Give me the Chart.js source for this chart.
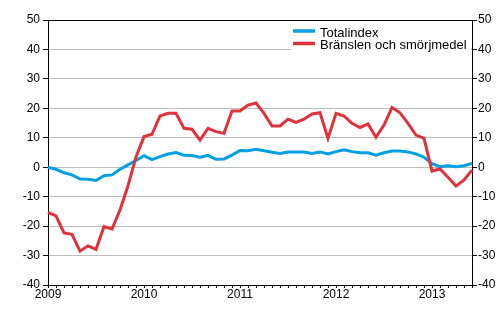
<!DOCTYPE html>
<html>
<head>
<meta charset="utf-8">
<script src="https://cdn.jsdelivr.net/npm/chart.js@4/dist/chart.umd.min.js"></script>
<style>
  html, body { margin: 0; padding: 0; background: #fff; }
  #wrap { width: 500px; height: 330px; }
</style>
</head>
<body>
<div id="wrap"><canvas id="chart" width="500" height="330"></canvas></div>
<script>
// Monthly data Jan 2009 - Jun 2013, % change
const years = ['2009', '2010', '2011', '2012', '2013'];
const months = ['01', '02', '03', '04', '05', '06', '07', '08', '09', '10', '11', '12'];

const totalindex = [
  0.0, -0.7, -1.9, -2.6, -4.0, -4.1, -4.5, -2.9, -2.6, -0.7, 0.8, 2.3,
  3.9, 2.6, 3.6, 4.5, 5.0, 4.1, 4.0, 3.4, 4.0, 2.7, 2.8, 4.1,
  5.7, 5.6, 6.1, 5.6, 5.1, 4.7, 5.2, 5.2, 5.2, 4.7, 5.2, 4.5,
  5.3, 5.9, 5.3, 4.9, 4.9, 4.1, 4.9, 5.5, 5.5, 5.2, 4.5, 3.4,
  1.2, 0.2, 0.5, 0.2, 0.5, 1.3
];
const bransle = [
  -15.3, -16.5, -22.3, -22.8, -28.5, -26.7, -27.9, -20.2, -21.0, -14.5, -6.3, 3.5,
  10.4, 11.2, 17.4, 18.3, 18.3, 13.2, 12.9, 9.2, 13.2, 12.1, 11.5, 19.1,
  19.1, 21.1, 21.8, 18.3, 14.0, 14.0, 16.3, 15.2, 16.3, 18.1, 18.5, 9.8,
  18.3, 17.4, 14.9, 13.5, 14.7, 10.2, 14.3, 20.3, 18.5, 14.9, 10.9, 9.8,
  -1.3, -0.6, -3.4, -6.4, -4.3, -1.0
];
const seriesNames = ['Totalindex', 'Bränslen och smörjmedel'];

// build category labels (year-month) up to the last data point
const labels = [];
years.forEach(y => months.forEach(m => labels.push(y + '-' + m)));
labels.length = totalindex.length;

const BLUE = '#00a0e3';
const RED = '#e0323c';

Chart.defaults.font.family = '"Liberation Sans", Arial, sans-serif';
Chart.defaults.font.size = 12;
Chart.defaults.color = '#000';

// top border line + legend inside the plot
const framePlugin = {
  id: 'frame',
  afterDatasetsDraw(chart) {
    const ctx = chart.ctx, a = chart.chartArea;
    ctx.save();
    // legend box
    ctx.fillStyle = '#fff';
    ctx.fillRect(291, a.top + 1, a.right - 292, 34);
    chart.data.datasets.forEach((ds, i) => {
      const y = 31 + i * 12.5;
      ctx.strokeStyle = ds.borderColor;
      ctx.lineWidth = 3.5;
      ctx.beginPath();
      ctx.moveTo(293, y);
      ctx.lineTo(315, y);
      ctx.stroke();
      ctx.fillStyle = '#000';
      ctx.font = '13px "Liberation Sans", Arial, sans-serif';
      ctx.textBaseline = 'middle';
      ctx.fillText(ds.label, 320, y + 2);
    });
    // top line
    ctx.strokeStyle = '#000';
    ctx.lineWidth = 1;
    ctx.beginPath();
    ctx.moveTo(a.left, Math.round(a.top) + 0.5);
    ctx.lineTo(a.right, Math.round(a.top) + 0.5);
    ctx.stroke();
    ctx.restore();
  }
};

new Chart(document.getElementById('chart'), {
  type: 'line',
  data: {
    labels: labels,
    datasets: [
      { label: seriesNames[0], data: totalindex, borderColor: BLUE, backgroundColor: BLUE, borderWidth: 3, pointRadius: 0, fill: false, order: 1 },
      { label: seriesNames[1], data: bransle, borderColor: RED, backgroundColor: RED, borderWidth: 3, pointRadius: 0, fill: false, order: 0 }
    ]
  },
  options: {
    responsive: false,
    animation: false,
    layout: { padding: { top: 20, left: 0, right: 0, bottom: 0 } },
    plugins: { legend: { display: false }, tooltip: { enabled: false } },
    scales: {
      x: {
        offset: false,
        grid: { drawOnChartArea: false, drawTicks: true, tickLength: 3, tickColor: '#000' },
        border: { color: '#000' },
        ticks: {
          autoSkip: false, maxRotation: 0, padding: -1,
          callback: function (v, i) { return i % 12 === 0 ? years[i / 12] : ''; }
        },
        afterFit: s => { s.height = 45; }
      },
      y: {
        position: 'left',
        min: -40, max: 50,
        grid: { color: '#bdbdbd', tickColor: '#000', tickLength: 5 },
        border: { color: '#000' },
        ticks: { stepSize: 10, padding: 3 },
        afterFit: s => { s.width = 48; }
      },
      y2: {
        position: 'right',
        min: -40, max: 50,
        grid: { drawOnChartArea: false, tickColor: '#000', tickLength: 5 },
        border: { color: '#000' },
        ticks: { stepSize: 10, padding: 1 },
        afterFit: s => { s.width = 28; }
      }
    }
  },
  plugins: [framePlugin]
});
</script>
</body>
</html>
